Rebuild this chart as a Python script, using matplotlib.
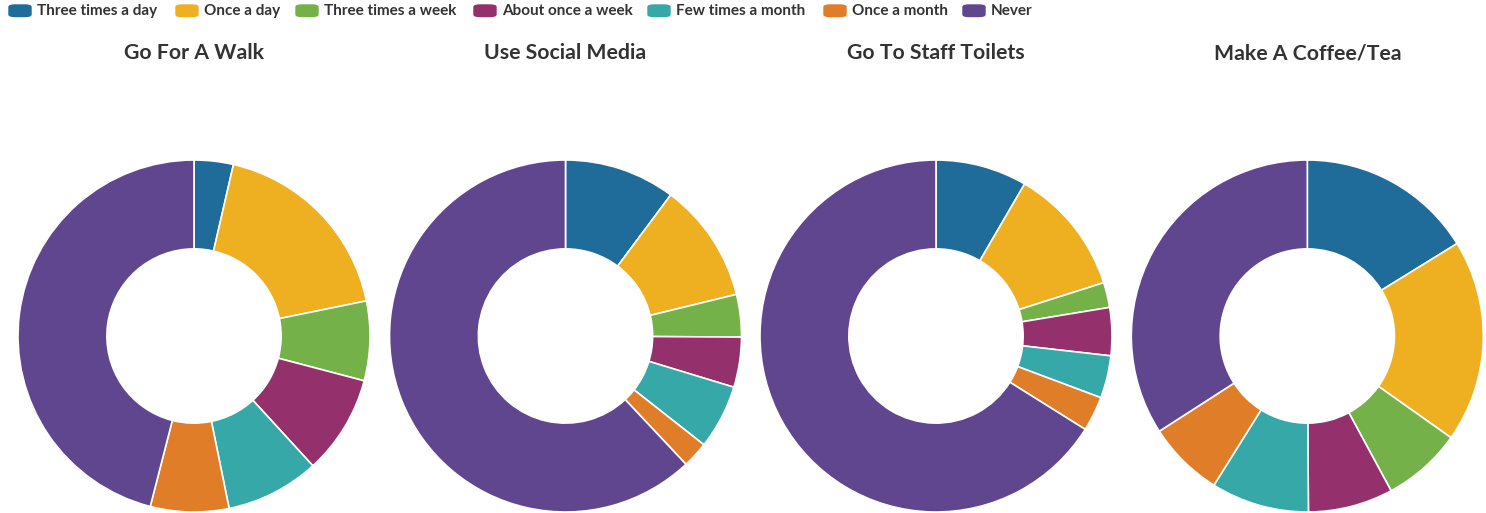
import matplotlib.pyplot as plt
from matplotlib.patches import FancyBboxPatch

categories = ['Three times a day', 'Once a day', 'Three times a week',
              'About once a week', 'Few times a month', 'Once a month', 'Never']
colors = ['#1f6b99', '#eeaf21', '#74b148', '#94306c', '#36a8a7', '#e07d28', '#5f468e']

titles = ['Go For A Walk', 'Use Social Media', 'Go To Staff Toilets', 'Make A Coffee/Tea']

# share of respondents (%) per answer
walk = [3.6, 18.2, 7.3, 9.1, 8.6, 7.2, 46.0]
social = [10.2, 11.0, 3.9, 4.6, 5.9, 2.4, 62.0]
toilets = [8.4, 11.7, 2.3, 4.4, 3.9, 3.2, 66.1]
coffee = [16.2, 18.6, 7.3, 7.8, 9.0, 7.0, 34.1]
series = [walk, social, toilets, coffee]

W, H = 1486, 513
fig = plt.figure(figsize=(W / 100, H / 100), dpi=100)
plt.rcParams['font.family'] = ['Lato', 'DejaVu Sans']

centers = [194, 565.5, 936, 1307.3]
R = 176
for cx, vals, title in zip(centers, series, titles):
    ax = fig.add_axes([(cx - R) / W, 1 / H, 2 * R / W, 2 * R / H])
    ax.pie(vals, colors=colors, startangle=90, counterclock=False, radius=1,
           wedgeprops=dict(width=0.505, edgecolor='white', linewidth=1.2))
    ax.set_xlim(-1, 1)
    ax.set_ylim(-1, 1)
    ax.set_aspect('equal')
    ax.axis('off')
    fig.text(cx / W, 1 - 53 / H, title, ha='center', va='center',
             fontsize=15.3, fontweight='bold', color='#333333')

# legend along the top
patch_x = [8, 175, 295, 473, 647, 823, 962]
for px, lab, col in zip(patch_x, categories, colors):
    p = FancyBboxPatch(((px + 1) / W, 1 - 16.5 / H), 22 / W, 11.5 / H,
                       boxstyle='round,pad=0,rounding_size=0.004',
                       transform=fig.transFigure, facecolor=col, edgecolor=col,
                       linewidth=1)
    fig.patches.append(p)
    fig.text((px + 29) / W, 1 - 11 / H, lab, ha='left', va='center',
             fontsize=11, fontweight='bold', color='#333333')

fig.savefig('out.png', dpi=100)
